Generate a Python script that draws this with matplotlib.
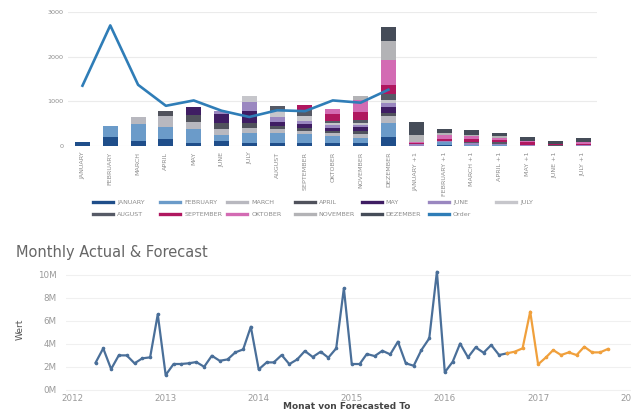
import numpy as np
import pandas as pd
import matplotlib
matplotlib.use("Agg")
import matplotlib.pyplot as plt
from matplotlib.lines import Line2D
import matplotlib.dates as mdates

# --- top chart data (stacked bars + Order line) ---
categories = ["JANUARY", "FEBRUARY", "MARCH", "APRIL", "MAY", "JUNE", "JULY",
              "AUGUST", "SEPTEMBER", "OKTOBER", "NOVEMBER", "DEZEMBER",
              "JANUARY +1", "FEBRUARY +1", "MARCH +1", "APRIL +1", "MAY +1",
              "JUNE +1", "JULY +1"]

series_names = ["JANUARY", "FEBRUARY", "MARCH", "APRIL", "MAY", "JUNE", "JULY",
                "AUGUST", "SEPTEMBER", "OKTOBER", "NOVEMBER", "DEZEMBER"]

jan_vals = [80, 200, 120, 160, 75, 105, 75, 60, 60, 70, 60, 195, 0, 20, 0, 0, 0, 0, 0]
feb_vals = [0, 250, 370, 260, 300, 150, 225, 240, 200, 160, 130, 315, 0, 60, 30, 20, 0, 0, 0]
mar_vals = [0, 0, 150, 250, 155, 135, 110, 90, 80, 50, 80, 165, 0, 0, 0, 0, 0, 0, 0]
apr_vals = [0, 0, 0, 105, 155, 125, 95, 60, 60, 50, 60, 60, 0, 0, 0, 0, 0, 0, 0]
may_vals = [0, 0, 0, 0, 180, 195, 275, 90, 90, 80, 100, 135, 0, 0, 0, 0, 0, 0, 0]
jun_vals = [0, 0, 0, 0, 0, 70, 210, 100, 60, 70, 50, 90, 40, 30, 30, 30, 20, 0, 30]
jul_vals = [0, 0, 0, 0, 0, 0, 125, 150, 120, 30, 40, 80, 0, 0, 0, 0, 0, 0, 0]
aug_vals = [0, 0, 0, 0, 0, 0, 0, 100, 130, 50, 70, 130, 0, 0, 30, 30, 0, 20, 0]
sep_vals = [0, 0, 0, 0, 0, 0, 0, 0, 110, 150, 160, 200, 20, 50, 60, 50, 60, 30, 20]
okt_vals = [0, 0, 0, 0, 0, 0, 0, 0, 0, 120, 290, 560, 40, 80, 70, 60, 30, 0, 30]
nov_vals = [0, 0, 0, 0, 0, 0, 0, 0, 0, 0, 80, 410, 140, 40, 30, 30, 0, 0, 0]
dez_vals = [0, 0, 0, 0, 0, 0, 0, 0, 0, 0, 0, 335, 290, 110, 110, 80, 100, 60, 100]

order_vals = [1350, 2700, 1370, 900, 1020, 790, 650, 800, 780, 1020, 970, 1260]

series_colors = ["#1f4e8a", "#6b9bc9", "#b8b8bf", "#50525c", "#3f1d63", "#9a87c0",
                 "#c6c6cb", "#565a66", "#b0175f", "#d36bb3", "#b3b3b6", "#454c58"]
order_color = "#2f7db7"

# --- bottom chart data (monthly actual & forecast, in millions) ---
actual_start = "2012-04-01"
actual_vals = [2.33, 3.58, 1.78, 2.97, 2.97, 2.28, 2.71, 2.80, 6.54,
               1.26, 2.22, 2.22, 2.28, 2.39, 1.98, 2.94, 2.50, 2.62, 3.23, 3.49, 5.46,
               1.75, 2.36, 2.36, 3.00, 2.21, 2.62, 3.35, 2.83, 3.29, 2.77, 3.58, 8.80,
               2.22, 2.22, 3.09, 2.91, 3.37, 3.06, 4.16, 2.28, 2.07, 3.43, 4.45, 10.24,
               1.50, 2.42, 4.00, 2.80, 3.67, 3.20, 3.87, 3.00, 3.15]
forecast_start = "2016-09-01"
forecast_vals = [3.15, 3.29, 3.58, 6.77, 2.19, 2.80, 3.43, 3.00, 3.23, 3.00,
                 3.72, 3.23, 3.23, 3.52]

W, H = 631, 411
fig = plt.figure(figsize=(W / 100, H / 100), dpi=100)
fig.patch.set_facecolor("white")

tick_grey = "#8c8c8c"
grid_grey = "#ebebeb"

# ---------------- top chart ----------------
ax1 = fig.add_axes([68 / W, 1 - 146 / H, 529 / W, 134 / H])
x = np.arange(len(categories))
all_series = [jan_vals, feb_vals, mar_vals, apr_vals, may_vals, jun_vals,
              jul_vals, aug_vals, sep_vals, okt_vals, nov_vals, dez_vals]
bottom = np.zeros(len(categories))
for vals, col in zip(all_series, series_colors):
    v = np.array(vals, dtype=float)
    ax1.bar(x, v, bottom=bottom, width=0.54, color=col, linewidth=0, zorder=2)
    bottom += v
ax1.plot(np.arange(len(order_vals)), order_vals, color=order_color, lw=1.9, zorder=3)

ax1.set_xlim(-0.52, 18.5)
ax1.set_ylim(0, 3000)
ax1.set_yticks([0, 1000, 2000, 3000])
ax1.set_xticks(x)
ax1.set_xticklabels(categories, rotation=90, va="top")
ax1.tick_params(axis="both", length=0, labelsize=4.6, labelcolor=tick_grey)
ax1.tick_params(axis="x", pad=4)
ax1.tick_params(axis="y", pad=3.5)
ax1.yaxis.grid(True, color=grid_grey, lw=0.8, zorder=0)
ax1.set_axisbelow(True)
for s in ax1.spines.values():
    s.set_visible(False)

# legend, laid out as uniform grid (row-major like the original)
legend_names = series_names + ["Order"]
legend_colors = series_colors + [order_color]
for i, (name, col) in enumerate(zip(legend_names, legend_colors)):
    r, c = divmod(i, 7)
    x0 = 93 + 67.2 * c
    y0 = 202 + 12 * r
    fig.add_artist(Line2D([x0 / W, (x0 + 20) / W], [1 - y0 / H, 1 - y0 / H],
                          color=col, lw=2.4, transform=fig.transFigure))
    fig.text((x0 + 24) / W, 1 - y0 / H, name, fontsize=4.6, color=tick_grey,
             va="center", ha="left")

# ---------------- bottom chart ----------------
fig.text(16 / W, 1 - 257 / H, "Monthly Actual & Forecast", fontsize=10.5,
         color="#666666", va="baseline", ha="left")

ax2 = fig.add_axes([66 / W, 1 - 393 / H, 570 / W, 130 / H])
actual_dates = pd.date_range(actual_start, periods=len(actual_vals), freq="MS")
forecast_dates = pd.date_range(forecast_start, periods=len(forecast_vals), freq="MS")

ax2.plot(actual_dates, actual_vals, color="#4a6f99", lw=1.6, marker="o",
         markersize=1.6, zorder=3)
ax2.plot(forecast_dates, forecast_vals, color="#f0a03c", lw=1.6, marker="o",
         markersize=1.6, zorder=3)

ax2.set_xlim(pd.Timestamp("2011-12-07"), pd.Timestamp("2018-01-20"))
ax2.set_ylim(-0.3, 11)
ax2.set_yticks([0, 2, 4, 6, 8, 10])
ax2.set_yticklabels([f"{v}M" for v in [0, 2, 4, 6, 8, 10]])
ax2.xaxis.set_major_locator(mdates.YearLocator())
ax2.xaxis.set_major_formatter(mdates.DateFormatter("%Y"))
ax2.tick_params(axis="both", length=0, labelsize=6.3, labelcolor="#9a9a9a")
ax2.tick_params(axis="y", pad=7)
ax2.tick_params(axis="x", pad=1)
ax2.yaxis.grid(True, color="#f0f0f0", lw=0.8, zorder=0)
ax2.set_axisbelow(True)
for s in ax2.spines.values():
    s.set_visible(False)

ax2.set_ylabel("Wert", fontsize=6.5, color="#555555")
ax2.yaxis.set_label_coords(-0.072, 0.49)
ax2.set_xlabel("Monat von Forecasted To", fontsize=6.5, color="#444444",
               fontweight="semibold")
ax2.xaxis.set_label_coords(0.493, -0.07)

fig.savefig("out.png", dpi=100, facecolor="white")
plt.close(fig)
